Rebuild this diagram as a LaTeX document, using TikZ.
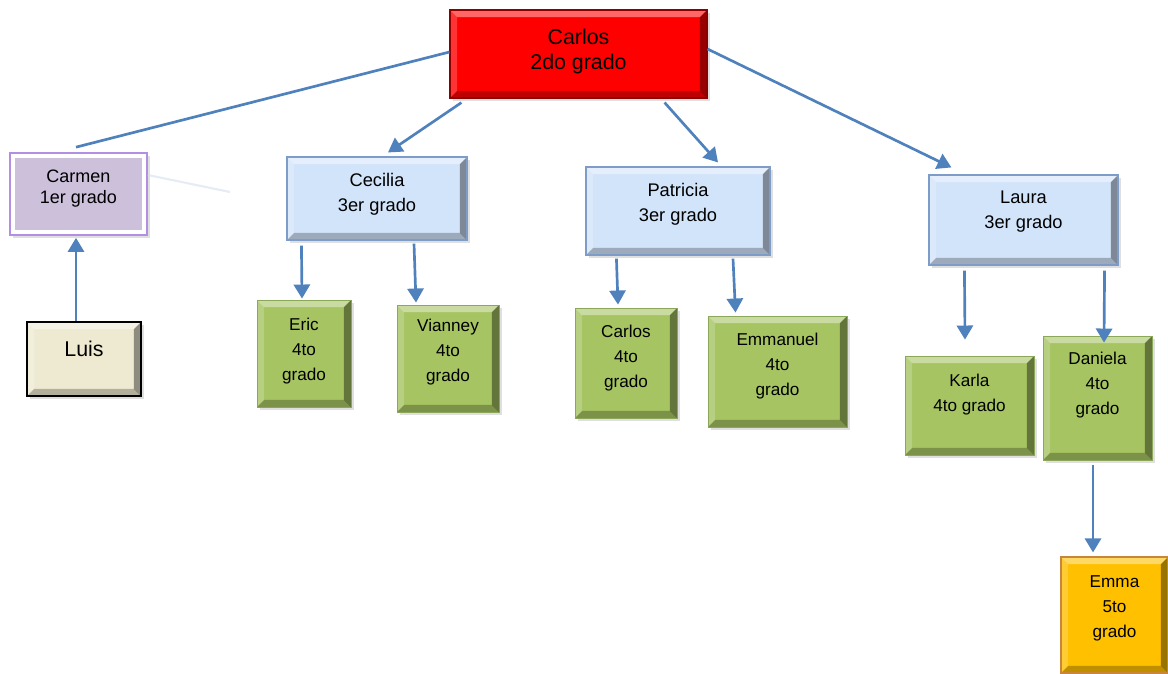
\documentclass[tikz,border=0pt]{standalone}
\usepackage{fontspec}
\setmainfont{Liberation Sans}
\usetikzlibrary{arrows.meta,calc,shadows}
\definecolor{arrowblue}{HTML}{4F81BD}
\definecolor{topred}{HTML}{FF0000}
\definecolor{lilac}{HTML}{CCC0DA}
\definecolor{lilacline}{HTML}{B38FE3}
\definecolor{sand}{HTML}{EEEAD2}
\definecolor{skyfill}{HTML}{D2E4FA}
\definecolor{skyline}{HTML}{7E9CC8}
\definecolor{leaf}{HTML}{A6C462}
\definecolor{leafline}{HTML}{8BA85A}
\definecolor{gold}{HTML}{FFC000}
\definecolor{goldline}{HTML}{C8863A}
\begin{document}
\begin{tikzpicture}[x=0.025cm,y=-0.025cm,
	sz/.style 2 args={minimum width=#1*0.025cm,minimum height=#2*0.025cm,inner sep=0pt},
	bevel/.style={path picture={
		\path (path picture bounding box.north west) coordinate (bnw)
			(path picture bounding box.north east) coordinate (bne)
			(path picture bounding box.south west) coordinate (bsw)
			(path picture bounding box.south east) coordinate (bse);
		\fill[white,opacity=.4] (bnw) -- (bne) -- ([shift={(-5pt,-5pt)}]bne) -- ([shift={(5pt,-5pt)}]bnw) -- cycle;
		\fill[white,opacity=.2] (bnw) -- ([shift={(5pt,-5pt)}]bnw) -- ([shift={(5pt,5pt)}]bsw) -- (bsw) -- cycle;
		\fill[black,opacity=.4] (bne) -- (bse) -- ([shift={(-5pt,5pt)}]bse) -- ([shift={(-5pt,-5pt)}]bne) -- cycle;
		\fill[black,opacity=.25] (bsw) -- ([shift={(5pt,5pt)}]bsw) -- ([shift={(-5pt,5pt)}]bse) -- (bse) -- cycle;
	}},
	shade/.style={drop shadow={opacity=.25,shadow xshift=2pt,shadow yshift=-2pt}},
	redbox/.style={fill=topred,draw=topred!55!black,line width=.8pt,bevel,shade},
	skybox/.style={fill=skyfill,draw=skyline,line width=.8pt,bevel,shade},
	leafbox/.style={fill=leaf,draw=leafline,line width=.6pt,bevel,shade},
	goldbox/.style={fill=gold,draw=goldline,line width=.8pt,bevel,shade},
	sandbox/.style={fill=sand,draw=black,line width=1.5pt,bevel,shade},
	lilacbox/.style={fill=white,draw=lilacline,line width=1.2pt,shade,path picture={
		\fill[lilac] ([shift={(3.5pt,-3.5pt)}]path picture bounding box.north west) rectangle ([shift={(-3.5pt,3.5pt)}]path picture bounding box.south east);
	}},
	txt/.style={align=center,font=\fontsize{13}{17.7}\selectfont},
	small/.style={align=center,font=\fontsize{12.2}{17.7}\selectfont},
	big/.style={align=center,font=\fontsize{15.2}{17.7}\selectfont},
	link/.style={draw=arrowblue,line width=1.9pt,-{Triangle[width=11.5pt,length=10pt]}},
	plain/.style={draw=arrowblue,line width=1.9pt}]
	\useasboundingbox (0,0) rectangle (1168,673);
	\node[redbox,sz={257}{88},label={[name=carlos-t,big,yshift=1.8pt]center:Carlos\\2do grado}] (carlos) at (578.5,54) {};
	\node[lilacbox,sz={137}{82},label={[name=carmen-t,align=center,font=\fontsize{12.8}{14.9}\selectfont,yshift=3.9pt]center:Carmen\\1er\ grado}] (carmen) at (78.5,194) {};
	\node[sandbox,sz={114}{74},label={[name=luis-t,big,yshift=7pt]center:Luis}] (luis) at (84,359) {};
	\node[skybox,sz={180}{83},label={[name=cecilia-t,txt,yshift=2.9pt]center:Cecilia\\3er grado}] (cecilia) at (377,198.5) {};
	\node[skybox,sz={184}{88},label={[name=patricia-t,txt,yshift=4.6pt]center:Patricia\\3er grado}] (patricia) at (678,211) {};
	\node[skybox,sz={189}{90},label={[name=laura-t,txt,yshift=6pt]center:Laura\\3er grado}] (laura) at (1023.5,220) {};
	\node[leafbox,sz={94}{107},label={[name=eric-t,small,yshift=1.8pt]center:Eric\\4to\\grado}] (eric) at (304,353.5) {};
	\node[leafbox,sz={102}{107},label={[name=vianney-t,small,yshift=4.6pt]center:Vianney\\4to\\grado}] (vianney) at (448,358.5) {};
	\node[leafbox,sz={102}{110},label={[name=carlitos-t,small,yshift=3.6pt]center:Carlos\\4to\\grado}] (carlitos) at (626,363) {};
	\node[leafbox,sz={139}{111},label={[name=emmanuel-t,small,yshift=3.9pt]center:Emmanuel\\4to\\grado}] (emmanuel) at (777.5,371.5) {};
	\node[leafbox,sz={129}{99},label={[name=karla-t,small,yshift=7.8pt]center:Karla\\4to grado}] (karla) at (969.5,405.5) {};
	\node[leafbox,sz={109}{124},label={[name=daniela-t,small,yshift=9.2pt]center:Daniela\\4to\\grado}] (daniela) at (1097.5,398) {};
	\node[goldbox,sz={107}{116},label={[name=emma-t,small,yshift=4.6pt]center:Emma\\5to\\grado}] (emma) at (1114.5,615) {};
	\coordinate (glow) at (230,192);
	\draw[arrowblue!25,line width=1.5pt,opacity=.6] ($(carmen.east)+(0,-19)$) -- (glow);
	\draw[plain] ($(carlos.west)+(0,-2)$) -- ($(carmen.north)+(-2.5,-5)$);
	\draw[link] ($(carlos.south west)+(12,4)$) -- ($(cecilia.north)+(11,-4)$);
	\draw[link] ($(carlos.south east)+(-43,4)$) -- ($(patricia.north)+(40,-4)$);
	\draw[link] ($(carlos.east)+(0,-5)$) -- ($(laura.north west)+(23,-7)$);
	\draw[link] ($(luis.north)+(-8,0)$) -- ($(carmen.south)+(-2.5,2)$);
	\draw[link] ($(cecilia.south west)+(15,5)$) -- ($(eric.north)+(-2,-1)$);
	\draw[link] ($(cecilia.south)+(37,3)$) -- ($(vianney.north)+(-32,-2)$);
	\draw[link] ($(patricia.south west)+(31,3)$) -- ($(carlitos.north)+(-8,-3)$);
	\draw[link] ($(patricia.south)+(55,3)$) -- ($(emmanuel.north)+(-42,-3)$);
	\draw[link] ($(laura.south west)+(36,5)$) -- ($(karla.north)+(-4.5,-16)$);
	\draw[link] ($(laura.south east)+(-14,5)$) -- ($(daniela.north)+(6.5,7)$);
	\draw[link] ($(daniela.south)+(-4.5,5)$) -- ($(emma.north)+(-21.5,-4)$);
\end{tikzpicture}
\end{document}
